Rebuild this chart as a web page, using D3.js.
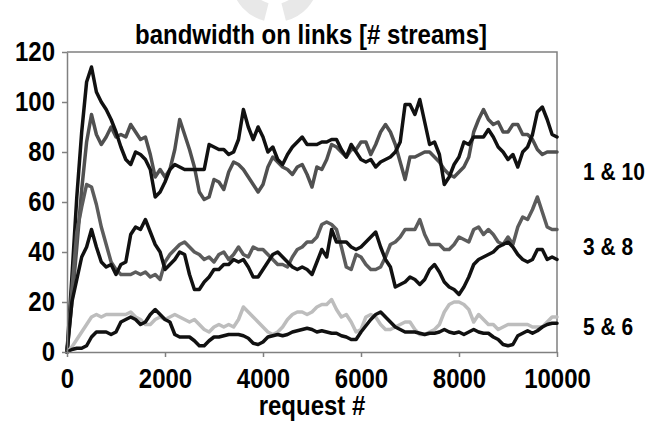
<!DOCTYPE html>
<html>
<head>
<meta charset="utf-8">
<script src="https://cdn.jsdelivr.net/npm/d3@7"></script>
<style>
  body { margin: 0; background: #fff; }
  svg { display: block; font-family: "Liberation Sans", Arial, Helvetica, sans-serif; font-weight: bold; }
  .axis path, .axis line { stroke: #808080; stroke-width: 1.5; }
  .axis text { font-size: 24px; font-weight: bold; fill: #000; font-family: "Liberation Sans", Arial, sans-serif; }
  /* the original lettering is a little taller than Arial */
  .tall { transform-box: fill-box; transform-origin: center; transform: scaleY(1.15); }
</style>
</head>
<body>
<svg id="chart"></svg>
<script>
// request # sampled every 100 requests, 0 .. 10000
const requests = d3.range(0, 10001, 100);

const xTicks = [0, 2000, 4000, 6000, 8000, 10000];
const yTicks = [0, 20, 40, 60, 80, 100, 120];

// links 1 & 10
const link1 = [0, 30, 62, 88, 108, 114, 104, 100, 97, 93, 88, 82, 77, 75, 80, 79, 77, 73, 62, 64,
  68, 73, 75, 74, 73, 73, 73, 73, 73, 83, 82, 81, 81, 79, 80, 85, 97, 90, 85, 90,
  86, 80, 82, 77, 75, 79, 82, 84, 86, 83, 83, 83, 84, 84, 85, 85, 81, 78, 83, 80,
  77, 76, 77, 74, 76, 77, 78, 80, 84, 99, 99, 95, 101, 92, 83, 84, 79, 67, 70, 75,
  78, 84, 83, 86, 86, 86, 89, 86, 82, 80, 77, 79, 74, 80, 82, 87, 96, 98, 93, 87, 86];
const link10 = [0, 20, 42, 65, 84, 95, 87, 83, 86, 90, 86, 87, 86, 91, 88, 85, 86, 79, 70, 73,
  70, 73, 81, 93, 87, 81, 74, 64, 61, 62, 69, 68, 65, 72, 76, 75, 73, 70, 67, 64,
  67, 74, 78, 76, 74, 73, 71, 74, 75, 71, 66, 74, 73, 77, 83, 82, 80, 78, 81, 81,
  84, 84, 79, 83, 88, 91, 88, 83, 76, 69, 78, 78, 79, 80, 80, 78, 76, 73, 71, 70,
  72, 74, 78, 88, 93, 97, 93, 91, 92, 88, 88, 91, 91, 87, 87, 85, 81, 79, 80, 80, 80];

// links 3 & 8
const link3 = [0, 25, 48, 58, 67, 66, 59, 50, 43, 36, 33, 31, 31, 31, 32, 31, 32, 30, 31, 29,
  36, 39, 41, 43, 44, 42, 40, 39, 37, 38, 36, 39, 40, 37, 39, 42, 39, 38, 42, 41,
  41, 39, 37, 35, 35, 34, 38, 41, 42, 44, 44, 46, 51, 52, 51, 49, 42, 34, 33, 39,
  38, 35, 33, 33, 34, 38, 43, 44, 46, 49, 49, 49, 53, 47, 43, 43, 43, 41, 41, 43,
  46, 45, 44, 49, 50, 47, 49, 47, 44, 43, 46, 43, 50, 54, 53, 57, 62, 56, 50, 49, 49];
const link8 = [0, 20, 29, 38, 42, 49, 42, 36, 34, 35, 31, 35, 36, 47, 50, 49, 53, 48, 43, 40,
  33, 35, 37, 40, 39, 31, 25, 25, 28, 30, 33, 33, 35, 35, 37, 36, 37, 34, 30, 30,
  33, 36, 39, 40, 38, 36, 34, 33, 34, 33, 31, 36, 41, 38, 49, 44, 44, 44, 42, 41,
  42, 44, 46, 48, 42, 37, 34, 26, 27, 28, 30, 29, 27, 29, 33, 35, 32, 28, 26, 25,
  23, 26, 30, 35, 37, 38, 39, 40, 42, 43, 44, 42, 39, 37, 36, 37, 41, 41, 37, 38, 37];

// links 5 & 6
const link5 = [0, 2, 5, 8, 11, 14, 15, 14, 15, 15, 15, 15, 15, 16, 14, 13, 11, 11, 13, 14,
  13, 14, 15, 14, 13, 12, 13, 11, 9, 8, 10, 11, 10, 11, 10, 13, 18, 16, 14, 12,
  10, 8, 7, 8, 10, 13, 15, 16, 16, 15, 16, 18, 19, 19, 21, 17, 14, 15, 12, 8,
  9, 14, 15, 14, 11, 9, 9, 10, 11, 12, 12, 9, 7, 7, 8, 9, 11, 16, 19, 20,
  20, 19, 17, 12, 15, 13, 11, 11, 9, 10, 11, 11, 11, 11, 11, 10, 10, 10, 12, 14, 14];
const link6 = [0, 1, 1.5, 1.5, 2.5, 6, 8, 8, 8, 7, 8, 12, 13, 14, 13, 11, 12, 15, 17, 15,
  13, 12, 7, 6, 6, 6, 4.5, 2.5, 2.5, 4.5, 6, 6, 6.5, 7, 7, 7, 6.5, 5.5, 3.5, 3,
  4, 6, 6.5, 7, 6.5, 7, 8, 8.5, 9, 9.5, 9, 8, 8.5, 8, 7.5, 7.5, 6.5, 6, 5, 5,
  8, 10.5, 13, 15, 16, 14, 12, 10, 9, 8, 8, 8, 7.5, 7, 7.5, 7.5, 8, 9, 8, 7.5,
  8, 7, 8, 9, 8, 7.5, 7.5, 6, 5, 3, 2.5, 3, 6.5, 7.5, 8.5, 7.5, 8.5, 10, 11, 11.5, 11.5];

const series = [
  {name: '10', values: link10, color: '#505050'},
  {name: '1', values: link1, color: '#111111'},
  {name: '3', values: link3, color: '#5c5c5c'},
  {name: '8', values: link8, color: '#111111'},
  {name: '5', values: link5, color: '#bdbdbd'},
  {name: '6', values: link6, color: '#111111'}
];

const groupLabels = ['1 & 10', '3 & 8', '5 & 6'];
// value level at which each group label sits on the right
const groupLabelValues = [72, 42, 10];

const width = 649, height = 423;
const margin = {top: 52, right: 92, bottom: 71, left: 67};
const innerW = width - margin.left - margin.right;
const innerH = height - margin.top - margin.bottom;

const svg = d3.select('#chart').attr('width', width).attr('height', height);

// faint watermark at the top of the page
const wm = d3.arc().innerRadius(26).outerRadius(44);
svg.append('path')
  .attr('transform', 'translate(275,-22)')
  .attr('d', wm({startAngle: Math.PI + 0.25, endAngle: 1.45 * Math.PI}))
  .attr('fill', '#e8e8e8');
svg.append('path')
  .attr('transform', 'translate(275,-22)')
  .attr('d', wm({startAngle: 0.55 * Math.PI, endAngle: Math.PI - 0.25}))
  .attr('fill', '#e8e8e8');

const chart = svg.append('g').attr('transform', `translate(${margin.left},${margin.top})`);

const x = d3.scaleLinear().domain([0, 10000]).range([0, innerW]);
const y = d3.scaleLinear().domain([0, 120]).range([innerH, 0]);

// plot frame (top and right)
chart.append('path')
  .attr('d', `M0,0H${innerW}V${innerH}`)
  .attr('fill', 'none')
  .attr('stroke', '#808080')
  .attr('stroke-width', 1.5);

const line = d3.line()
  .x((d, i) => x(requests[i]))
  .y(d => y(d));

chart.selectAll('.series')
  .data(series)
  .join('path')
  .attr('class', 'series')
  .attr('d', d => line(d.values))
  .attr('fill', 'none')
  .attr('stroke', d => d.color)
  .attr('stroke-width', 3.5)
  .attr('stroke-linejoin', 'round')
  .attr('stroke-linecap', 'round');

const xAxis = d3.axisBottom(x).tickValues(xTicks).tickFormat(d3.format('d'))
  .tickSize(5).tickSizeOuter(0).tickPadding(13);
const yAxis = d3.axisLeft(y).tickValues(yTicks).tickFormat(d3.format('d'))
  .tickSize(5).tickSizeOuter(0).tickPadding(7);

chart.append('g')
  .attr('class', 'axis')
  .attr('transform', `translate(0,${innerH})`)
  .call(xAxis)
  .selectAll('text').classed('tall', true);

chart.append('g')
  .attr('class', 'axis')
  .call(yAxis)
  .selectAll('text').classed('tall', true);

// title
svg.append('text')
  .attr('class', 'tall')
  .attr('x', 311)
  .attr('y', 43)
  .attr('text-anchor', 'middle')
  .style('font-size', '24px')
  .text('bandwidth on links [# streams]');

// x axis title
svg.append('text')
  .attr('class', 'tall')
  .attr('x', 312)
  .attr('y', 414)
  .attr('text-anchor', 'middle')
  .style('font-size', '24px')
  .text('request #');

// group labels on the right
svg.selectAll('.glabel')
  .data(groupLabels)
  .join('text')
  .attr('class', 'glabel tall')
  .attr('x', 583)
  .attr('y', (d, i) => margin.top + y(groupLabelValues[i]) + 7)
  .style('font-size', '21px')
  .text(d => d);
</script>
</body>
</html>
